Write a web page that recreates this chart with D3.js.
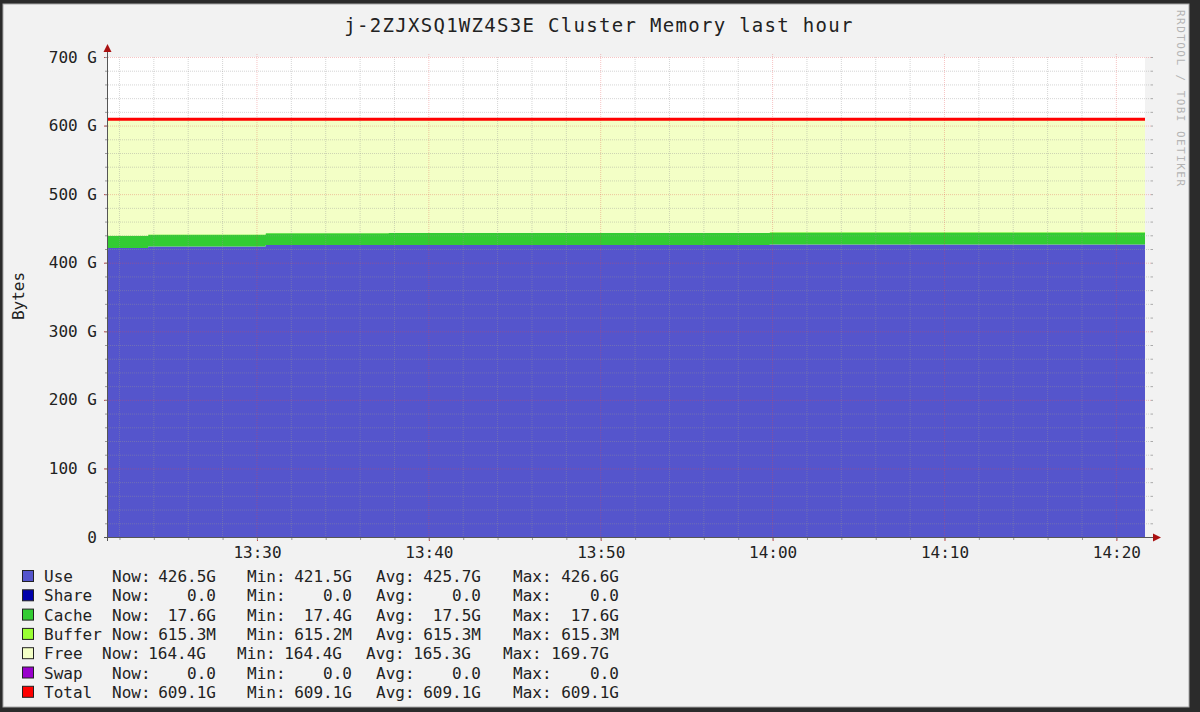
<!DOCTYPE html>
<html>
<head>
<meta charset="utf-8">
<script src="https://cdn.jsdelivr.net/npm/d3@7"></script>
<style>
  html, body { margin: 0; padding: 0; background: #2b2b2b; }
  svg { display: block; }
  text { font-family: "DejaVu Sans Mono", monospace; fill: #222; }
</style>
</head>
<body>
<svg id="chart" width="1200" height="712"></svg>
<script>
// sample times where the rrd values change (last hour)
let times = ["13:21:20", "13:23:40", "13:30:30", "13:37:40", "13:59:50", "14:21:40"];
// values in GB
let useVals    = [421.5, 423.5, 425.7, 425.7, 426.5, 426.5];
let cacheVals  = [17.4, 17.4, 17.4, 17.5, 17.6, 17.6];
let bufferVals = [0.615, 0.615, 0.615, 0.615, 0.615, 0.615];
let freeVals   = [169.6, 167.6, 165.4, 165.3, 164.4, 164.4];
let totalVals  = [609.1, 609.1, 609.1, 609.1, 609.1, 609.1];

let yTicks = [0, 100, 200, 300, 400, 500, 600, 700];
let yTickLabels = ["0", "100 G", "200 G", "300 G", "400 G", "500 G", "600 G", "700 G"];

let legendNames = ["Use", "Share", "Cache", "Buffer", "Free", "Swap", "Total"];
let legendColors = ["#5555cc", "#0000aa", "#33cc33", "#99ff33", "#f3ffc6", "#9900cc", "#ff0000"];
let legendNow = ["426.5G", "0.0", "17.6G", "615.3M", "164.4G", "0.0", "609.1G"];
let legendMin = ["421.5G", "0.0", "17.4G", "615.2M", "164.4G", "0.0", "609.1G"];
let legendAvg = ["425.7G", "0.0", "17.5G", "615.3M", "165.3G", "0.0", "609.1G"];
let legendMax = ["426.6G", "0.0", "17.6G", "615.3M", "169.7G", "0.0", "609.1G"];

let plotLeft = 108, plotRight = 1145, plotTop = 57, plotBottom = 537;

let parseT = d3.timeParse("%H:%M:%S");
let tData = times.map(parseT);

let table = tData.map(function(t, i) {
	return { t: t, use: useVals[i], cache: cacheVals[i], buffer: bufferVals[i], free: freeVals[i], total: totalVals[i] };
});

let x = d3.scaleTime()
	.domain([tData[0], tData[tData.length - 1]])
	.range([plotLeft, plotRight]);

let y = d3.scaleLinear()
	.domain([0, 700])
	.range([plotBottom, plotTop]);

let svg = d3.select("#chart");

// frame
svg.append("rect")
	.attr("x", 3).attr("y", 4)
	.attr("width", 1186).attr("height", 703)
	.attr("fill", "#f2f2f2")
	.attr("stroke", "#a8a8a8");

// plot background
svg.append("rect")
	.attr("x", plotLeft).attr("y", plotTop)
	.attr("width", plotRight - plotLeft).attr("height", plotBottom - plotTop)
	.attr("fill", "#ffffff");

// stacked areas
let keys = ["use", "cache", "buffer", "free"];
let colors = { use: "#5555cc", cache: "#33cc33", buffer: "#99ff33", free: "#f3ffc6" };
let stacked = d3.stack().keys(keys)(table);

let area = d3.area()
	.curve(d3.curveStepAfter)
	.x(function(d) { return x(d.data.t); })
	.y0(function(d) { return y(d[0]); })
	.y1(function(d) { return y(d[1]); });

svg.append("g")
	.selectAll("path")
	.data(stacked)
	.enter().append("path")
	.attr("d", area)
	.attr("fill", function(d) { return colors[d.key]; });

// grid
let gridEnd = 1151;
let minorX = d3.timeMinute.every(2).range(x.domain()[0], x.domain()[1]);
let majorX = d3.timeMinute.every(10).range(x.domain()[0], x.domain()[1]);
let minorY = d3.range(0, 701, 20);

let grid = svg.append("g");
grid.selectAll("line.vminor")
	.data(minorX.filter(function(t) { return t.getMinutes() % 10 != 0; }))
	.enter().append("line")
	.attr("x1", function(d) { return x(d); }).attr("x2", function(d) { return x(d); })
	.attr("y1", plotTop).attr("y2", plotBottom)
	.attr("stroke", "rgba(150,150,150,0.4)")
	.attr("stroke-dasharray", "1,1");

grid.selectAll("line.hminor")
	.data(minorY.filter(function(v) { return v % 100 != 0; }))
	.enter().append("line")
	.attr("x1", plotLeft).attr("x2", gridEnd)
	.attr("y1", function(d) { return y(d) + 0.5; }).attr("y2", function(d) { return y(d) + 0.5; })
	.attr("stroke", "rgba(150,150,150,0.4)")
	.attr("stroke-dasharray", "1,1");

grid.selectAll("line.vmajor")
	.data(majorX)
	.enter().append("line")
	.attr("x1", function(d) { return x(d); }).attr("x2", function(d) { return x(d); })
	.attr("y1", plotTop - 3).attr("y2", plotBottom)
	.attr("stroke", "rgba(230,70,70,0.32)")
	.attr("stroke-dasharray", "1,1");

grid.selectAll("line.hmajor")
	.data(yTicks.filter(function(v) { return v > 0; }))
	.enter().append("line")
	.attr("x1", plotLeft).attr("x2", gridEnd)
	.attr("y1", function(d) { return y(d) + 0.5; }).attr("y2", function(d) { return y(d) + 0.5; })
	.attr("stroke", "rgba(230,70,70,0.32)")
	.attr("stroke-dasharray", "1,1");

// total line
let totalLine = d3.line()
	.curve(d3.curveStepAfter)
	.x(function(d) { return x(d.t); })
	.y(function(d) { return y(d.total); });

svg.append("path")
	.attr("d", totalLine(table))
	.attr("fill", "none")
	.attr("stroke", "#ff0000")
	.attr("stroke-width", 3);

// axes
let xAxis = svg.append("g")
	.attr("transform", "translate(0," + plotBottom + ")")
	.call(d3.axisBottom(x)
		.tickValues(majorX)
		.tickSize(4)
		.tickPadding(6)
		.tickFormat(d3.timeFormat("%H:%M")));
xAxis.select(".domain").remove();
xAxis.selectAll("line").attr("stroke", "#c04040");
xAxis.selectAll("text").style("font-size", "16px").attr("fill", "#222");

svg.append("g")
	.attr("transform", "translate(0," + plotBottom + ")")
	.call(d3.axisBottom(x).tickValues(minorX).tickSize(3).tickFormat(""))
	.call(function(g) { g.select(".domain").remove(); g.selectAll("line").attr("stroke", "#999"); });

let yAxis = svg.append("g")
	.attr("transform", "translate(" + plotLeft + ",0)")
	.call(d3.axisLeft(y)
		.tickValues(yTicks)
		.tickSize(4)
		.tickPadding(7)
		.tickFormat(function(d, i) { return yTickLabels[i]; }));
yAxis.select(".domain").remove();
yAxis.selectAll("line").attr("stroke", "#c04040");
yAxis.selectAll("text").style("font-size", "16px").attr("fill", "#222");

svg.append("g")
	.attr("transform", "translate(" + plotLeft + ",0)")
	.call(d3.axisLeft(y).tickValues(minorY).tickSize(3).tickFormat(""))
	.call(function(g) { g.select(".domain").remove(); g.selectAll("line").attr("stroke", "#999"); });

// right side minor ticks
svg.append("g")
	.attr("transform", "translate(" + gridEnd + ",0)")
	.call(d3.axisRight(y).tickValues(minorY).tickSize(2).tickFormat(""))
	.call(function(g) { g.select(".domain").remove(); g.selectAll("line").attr("stroke", "#aaa"); });

// axis lines with arrows
svg.append("line")
	.attr("x1", plotLeft - 4).attr("x2", 1154)
	.attr("y1", plotBottom + 0.5).attr("y2", plotBottom + 0.5)
	.attr("stroke", "#555").attr("stroke-width", 1);
svg.append("path")
	.attr("d", "M1153," + (plotBottom - 3.5) + "L1161," + (plotBottom + 0.5) + "L1153," + (plotBottom + 4.5) + "Z")
	.attr("fill", "#aa1111");

svg.append("line")
	.attr("x1", plotLeft - 0.5).attr("x2", plotLeft - 0.5)
	.attr("y1", plotBottom + 4).attr("y2", 50)
	.attr("stroke", "#555").attr("stroke-width", 1);
svg.append("path")
	.attr("d", "M" + (plotLeft - 4.5) + ",52L" + (plotLeft - 0.5) + ",44L" + (plotLeft + 3.5) + ",52Z")
	.attr("fill", "#aa1111");

// title
svg.append("text")
	.attr("x", 599)
	.attr("y", 32)
	.style("text-anchor", "middle")
	.style("font-size", "19px")
	.style("letter-spacing", "1.3px")
	.text("j-2ZJXSQ1WZ4S3E Cluster Memory last hour");

// y-axis label
svg.append("text")
	.attr("x", -296)
	.attr("y", 24)
	.attr("transform", "rotate(-90)")
	.style("text-anchor", "middle")
	.style("font-size", "16px")
	.text("Bytes");

// watermark
svg.append("text")
	.attr("x", 10)
	.attr("y", -1177)
	.attr("transform", "rotate(90)")
	.attr("textLength", 176)
	.style("font-size", "11px")
	.style("fill", "#b4b4b4")
	.text("RRDTOOL / TOBI OETIKER");

// legend
let rowY = function(i) { return 582 + i * 19.3; };
let shift = function(i) { return legendNames[i] == "Free" ? -10 : 0; };
let legend = svg.append("g").style("font-size", "16px");

legend.selectAll("rect")
	.data(legendNames)
	.enter().append("rect")
	.attr("x", 22.5)
	.attr("y", function(d, i) { return rowY(i) - 11.5; })
	.attr("width", 11).attr("height", 11)
	.attr("fill", function(d, i) { return legendColors[i]; })
	.attr("stroke", "#222");

function legendCol(values, xPos, anchor, useShift) {
	legend.append("g")
		.selectAll("text")
		.data(values)
		.enter().append("text")
		.attr("x", function(d, i) { return xPos + (useShift ? shift(i) : 0); })
		.attr("y", function(d, i) { return rowY(i); })
		.style("text-anchor", anchor)
		.text(function(d) { return d; });
}

legendCol(legendNames, 44, "start", false);
legendCol(legendNames.map(function() { return "Now:"; }), 112, "start", true);
legendCol(legendNow, 216, "end", true);
legendCol(legendNames.map(function() { return "Min:"; }), 247, "start", true);
legendCol(legendMin, 352, "end", true);
legendCol(legendNames.map(function() { return "Avg:"; }), 376, "start", true);
legendCol(legendAvg, 481, "end", true);
legendCol(legendNames.map(function() { return "Max:"; }), 513, "start", true);
legendCol(legendMax, 619, "end", true);
</script>
</body>
</html>
